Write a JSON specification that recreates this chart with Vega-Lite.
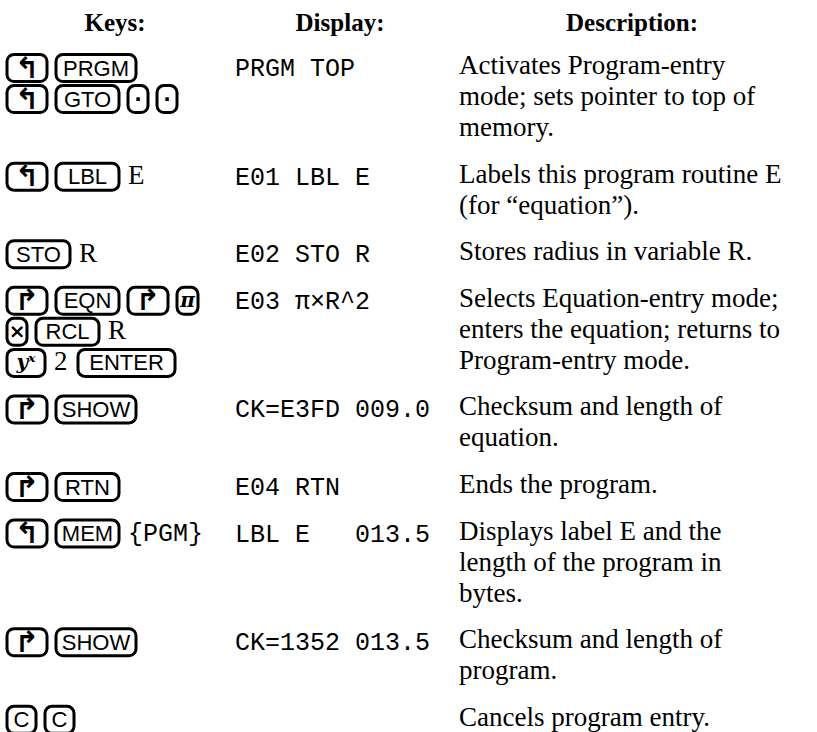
{
  "$schema": "https://vega.github.io/schema/vega-lite/v6.json",
  "width": 817,
  "height": 732,
  "padding": 0,
  "autosize": {"type": "none"},
  "background": "white",
  "config": {"view": {"stroke": null}},
  "datasets": {
    "tokens": [
      {"line": 0, "seq": 1, "label": "↰", "kind": "shift"},
      {"line": 0, "seq": 2, "label": "PRGM", "kind": "key"},
      {"line": 2, "seq": 1, "label": "↰", "kind": "shift"},
      {"line": 2, "seq": 2, "label": "GTO", "kind": "key"},
      {"line": 2, "seq": 3, "label": "·", "kind": "sym"},
      {"line": 2, "seq": 4, "label": "·", "kind": "sym"},
      {"line": 7, "seq": 1, "label": "↰", "kind": "shift"},
      {"line": 7, "seq": 2, "label": "LBL", "kind": "key"},
      {"line": 7, "seq": 3, "label": "E", "kind": "serif"},
      {"line": 12, "seq": 1, "label": "STO", "kind": "key"},
      {"line": 12, "seq": 2, "label": "R", "kind": "serif"},
      {"line": 15, "seq": 1, "label": "↱", "kind": "shift"},
      {"line": 15, "seq": 2, "label": "EQN", "kind": "key"},
      {"line": 15, "seq": 3, "label": "↱", "kind": "shift"},
      {"line": 15, "seq": 4, "label": "π", "kind": "ital"},
      {"line": 17, "seq": 1, "label": "×", "kind": "sym"},
      {"line": 17, "seq": 2, "label": "RCL", "kind": "key"},
      {"line": 17, "seq": 3, "label": "R", "kind": "serif"},
      {"line": 19, "seq": 1, "label": "yˣ", "kind": "ital"},
      {"line": 19, "seq": 2, "label": "2", "kind": "serif"},
      {"line": 19, "seq": 3, "label": "ENTER", "kind": "key"},
      {"line": 22, "seq": 1, "label": "↱", "kind": "shift"},
      {"line": 22, "seq": 2, "label": "SHOW", "kind": "key"},
      {"line": 27, "seq": 1, "label": "↱", "kind": "shift"},
      {"line": 27, "seq": 2, "label": "RTN", "kind": "key"},
      {"line": 30, "seq": 1, "label": "↰", "kind": "shift"},
      {"line": 30, "seq": 2, "label": "MEM", "kind": "key"},
      {"line": 30, "seq": 3, "label": "{PGM}", "kind": "lcd"},
      {"line": 37, "seq": 1, "label": "↱", "kind": "shift"},
      {"line": 37, "seq": 2, "label": "SHOW", "kind": "key"},
      {"line": 42, "seq": 1, "label": "C", "kind": "key"},
      {"line": 42, "seq": 2, "label": "C", "kind": "key"}
    ],
    "cells": [
      {"col": 1, "line": -3, "text": "Keys:", "kind": "header"},
      {"col": 2, "line": -3, "text": "Display:", "kind": "header"},
      {"col": 3, "line": -3, "text": "Description:", "kind": "header"},
      {"col": 2, "line": 0, "text": "PRGM TOP", "kind": "display"},
      {"col": 2, "line": 7, "text": "E01 LBL E", "kind": "display"},
      {"col": 2, "line": 12, "text": "E02 STO R", "kind": "display"},
      {"col": 2, "line": 15, "text": "E03 π×R^2", "kind": "display"},
      {"col": 2, "line": 22, "text": "CK=E3FD 009.0", "kind": "display"},
      {"col": 2, "line": 27, "text": "E04 RTN", "kind": "display"},
      {"col": 2, "line": 30, "text": "LBL E\u00a0\u00a0\u00a0013.5", "kind": "display"},
      {"col": 2, "line": 37, "text": "CK=1352 013.5", "kind": "display"},
      {"col": 3, "line": 0, "text": "Activates Program-entry", "kind": "desc"},
      {"col": 3, "line": 2, "text": "mode; sets pointer to top of", "kind": "desc"},
      {"col": 3, "line": 4, "text": "memory.", "kind": "desc"},
      {"col": 3, "line": 7, "text": "Labels this program routine E", "kind": "desc"},
      {"col": 3, "line": 9, "text": "(for “equation”).", "kind": "desc"},
      {"col": 3, "line": 12, "text": "Stores radius in variable R.", "kind": "desc"},
      {"col": 3, "line": 15, "text": "Selects Equation-entry mode;", "kind": "desc"},
      {"col": 3, "line": 17, "text": "enters the equation; returns to", "kind": "desc"},
      {"col": 3, "line": 19, "text": "Program-entry mode.", "kind": "desc"},
      {"col": 3, "line": 22, "text": "Checksum and length of", "kind": "desc"},
      {"col": 3, "line": 24, "text": "equation.", "kind": "desc"},
      {"col": 3, "line": 27, "text": "Ends the program.", "kind": "desc"},
      {"col": 3, "line": 30, "text": "Displays label E and the", "kind": "desc"},
      {"col": 3, "line": 32, "text": "length of the program in", "kind": "desc"},
      {"col": 3, "line": 34, "text": "bytes.", "kind": "desc"},
      {"col": 3, "line": 37, "text": "Checksum and length of", "kind": "desc"},
      {"col": 3, "line": 39, "text": "program.", "kind": "desc"},
      {"col": 3, "line": 42, "text": "Cancels program entry.", "kind": "desc"}
    ]
  },
  "layer": [
    {
      "data": {"name": "tokens"},
      "transform": [
        {"calculate": "datum.kind == 'shift' ? 40 : datum.kind == 'key' ? 12 + 17 * length(datum.label) : datum.kind == 'sym' ? 20 : datum.kind == 'ital' ? 4 + 17 * length(datum.label) : datum.kind == 'serif' ? 15 * length(datum.label) : 15.5 * length(datum.label)", "as": "w"},
        {"calculate": "datum.w + 9", "as": "adv"},
        {"window": [{"op": "sum", "field": "adv", "as": "cum"}], "groupby": ["line"], "sort": [{"field": "seq", "order": "ascending"}], "frame": [null, 0]},
        {"calculate": "datum.cum - datum.adv", "as": "x0"},
        {"calculate": "datum.x0 + datum.w", "as": "x1"},
        {"calculate": "datum.x0 + datum.w / 2", "as": "xc"}
      ],
      "encoding": {
        "y": {"field": "line", "type": "quantitative", "axis": null, "scale": {"domain": [-4.285, 42.88], "reverse": true, "nice": false, "zero": false}}
      },
      "layer": [
        {
          "transform": [{"filter": "datum.kind == 'shift' || datum.kind == 'key' || datum.kind == 'sym' || datum.kind == 'ital'"}],
          "mark": {"type": "rect", "yOffset": -12, "y2Offset": 15, "cornerRadius": 7, "fill": "white", "stroke": "black", "strokeWidth": 3},
          "encoding": {
            "x": {"field": "x0", "type": "quantitative", "axis": null, "scale": {"domain": [-7, 810], "range": [0, 817], "nice": false, "zero": false}},
            "x2": {"field": "x1"},
            "y2": {"field": "line"}
          }
        },
        {
          "transform": [{"filter": "datum.kind == 'key'"}],
          "mark": {"type": "text", "font": "Liberation Sans", "fontSize": 22, "align": "center", "baseline": "middle", "color": "black", "dy": 2},
          "encoding": {
            "x": {"field": "xc", "type": "quantitative", "axis": null, "scale": {"domain": [-7, 810], "range": [0, 817], "nice": false, "zero": false}},
            "text": {"field": "label"}
          }
        },
        {
          "transform": [{"filter": "datum.kind == 'shift'"}],
          "mark": {"type": "text", "font": "DejaVu Sans", "fontWeight": "bold", "fontSize": 29, "align": "center", "baseline": "middle", "color": "black", "dy": 2},
          "encoding": {
            "x": {"field": "xc", "type": "quantitative", "axis": null, "scale": {"domain": [-7, 810], "range": [0, 817], "nice": false, "zero": false}},
            "text": {"field": "label"}
          }
        },
        {
          "transform": [{"filter": "datum.kind == 'sym'"}],
          "mark": {"type": "text", "font": "DejaVu Sans", "fontWeight": "bold", "fontSize": 20, "align": "center", "baseline": "middle", "color": "black", "dy": 2},
          "encoding": {
            "x": {"field": "xc", "type": "quantitative", "axis": null, "scale": {"domain": [-7, 810], "range": [0, 817], "nice": false, "zero": false}},
            "text": {"field": "label"}
          }
        },
        {
          "transform": [{"filter": "datum.kind == 'ital'"}],
          "mark": {"type": "text", "font": "DejaVu Serif", "fontStyle": "italic", "fontWeight": "bold", "fontSize": 20, "align": "center", "baseline": "middle", "color": "black", "dy": 2},
          "encoding": {
            "x": {"field": "xc", "type": "quantitative", "axis": null, "scale": {"domain": [-7, 810], "range": [0, 817], "nice": false, "zero": false}},
            "text": {"field": "label"}
          }
        },
        {
          "transform": [{"filter": "datum.kind == 'serif'"}],
          "mark": {"type": "text", "font": "Liberation Serif", "fontSize": 27, "align": "left", "baseline": "alphabetic", "color": "black", "dy": 9},
          "encoding": {
            "x": {"field": "x0", "type": "quantitative", "axis": null, "scale": {"domain": [-7, 810], "range": [0, 817], "nice": false, "zero": false}},
            "text": {"field": "label"}
          }
        },
        {
          "transform": [{"filter": "datum.kind == 'lcd'"}],
          "mark": {"type": "text", "font": "Liberation Mono", "fontSize": 25, "align": "left", "baseline": "alphabetic", "color": "black", "dy": 9},
          "encoding": {
            "x": {"field": "x0", "type": "quantitative", "axis": null, "scale": {"domain": [-7, 810], "range": [0, 817], "nice": false, "zero": false}},
            "text": {"field": "label"}
          }
        }
      ]
    },
    {
      "data": {"name": "cells"},
      "transform": [{"filter": "datum.kind == 'header'"}],
      "mark": {"type": "text", "font": "Liberation Serif", "fontWeight": "bold", "fontSize": 25, "align": "center", "baseline": "alphabetic", "color": "black", "dy": 11},
      "encoding": {
        "x": {"field": "col", "type": "quantitative", "axis": null, "scale": {"domain": [1, 2, 3], "range": [115, 340, 632], "nice": false, "zero": false}},
        "y": {"field": "line", "type": "quantitative", "axis": null, "scale": {"domain": [-4.285, 42.88], "reverse": true, "nice": false, "zero": false}},
        "text": {"field": "text"}
      }
    },
    {
      "data": {"name": "cells"},
      "transform": [{"filter": "datum.kind == 'display'"}],
      "mark": {"type": "text", "font": "Liberation Mono", "fontSize": 25, "align": "left", "baseline": "alphabetic", "color": "black", "dy": 9.5},
      "encoding": {
        "x": {"field": "col", "type": "quantitative", "axis": null, "scale": {"domain": [2, 3], "range": [235, 459], "nice": false, "zero": false}},
        "y": {"field": "line", "type": "quantitative", "axis": null, "scale": {"domain": [-4.285, 42.88], "reverse": true, "nice": false, "zero": false}},
        "text": {"field": "text"}
      }
    },
    {
      "data": {"name": "cells"},
      "transform": [{"filter": "datum.kind == 'desc'"}],
      "mark": {"type": "text", "font": "Liberation Serif", "fontSize": 27, "align": "left", "baseline": "alphabetic", "color": "black", "dy": 7.5},
      "encoding": {
        "x": {"field": "col", "type": "quantitative", "axis": null, "scale": {"domain": [2, 3], "range": [235, 459], "nice": false, "zero": false}},
        "y": {"field": "line", "type": "quantitative", "axis": null, "scale": {"domain": [-4.285, 42.88], "reverse": true, "nice": false, "zero": false}},
        "text": {"field": "text"}
      }
    }
  ],
  "resolve": {"scale": {"x": "independent"}}
}
